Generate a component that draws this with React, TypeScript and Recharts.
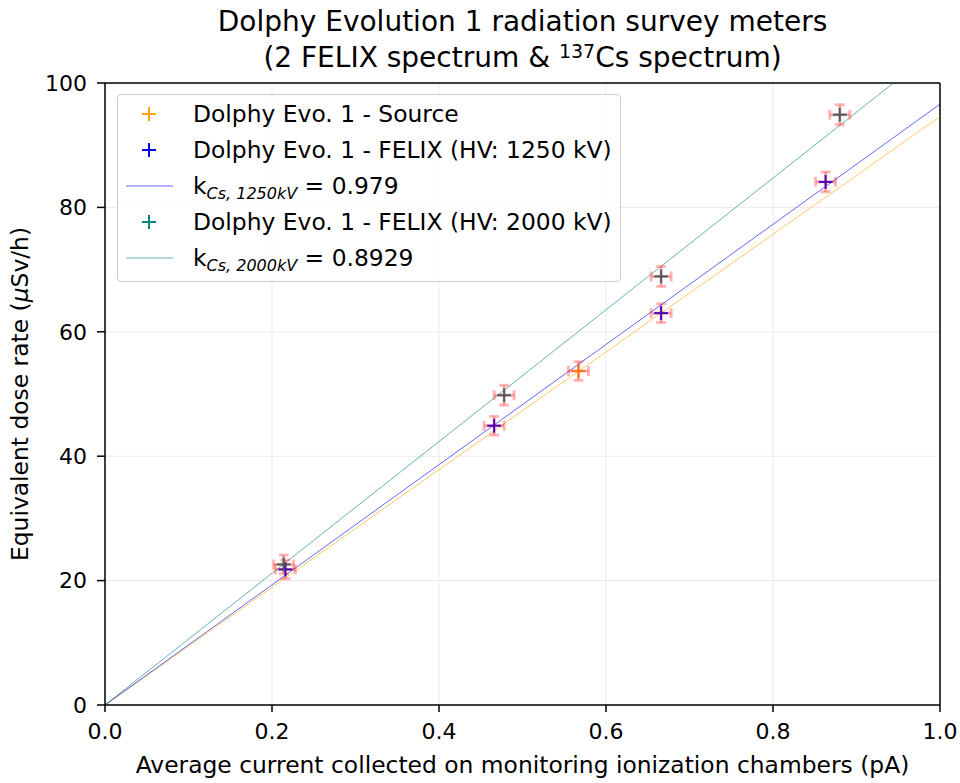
import React from "react";
import {
  ComposedChart,
  Scatter,
  Line,
  XAxis,
  YAxis,
  CartesianGrid,
  ErrorBar,
  ReferenceLine,
  Legend,
} from "recharts";

// valeurs
const sourceX = [0.567];
const sourceY = [53.7];
const sourceXErr = [0.012];
const sourceYErr = [1.5];

const felix1250X = [0.216, 0.466, 0.666, 0.863];
const felix1250Y = [21.8, 44.9, 63.0, 84.1];
const felix1250XErr = [0.012, 0.012, 0.012, 0.012];
const felix1250YErr = [1.5, 1.5, 1.5, 1.6];

const felix2000X = [0.214, 0.478, 0.666, 0.88];
const felix2000Y = [22.6, 49.8, 68.9, 94.9];
const felix2000XErr = [0.012, 0.012, 0.012, 0.012];
const felix2000YErr = [1.5, 1.6, 1.6, 1.6];

// pentes des droites d'ajustement (y à x = 1)
const lineX = [0, 1];
const slopeSource = 94.6;
const slope1250 = 96.6;
const slope2000 = 105.9;

const xTicks = [0, 0.2, 0.4, 0.6, 0.8, 1.0];
const yTicks = [0, 20, 40, 60, 80, 100];

const FONT = "'DejaVu Sans', sans-serif";
const ORANGE = "#ffa500";
const BLUE = "#0000ff";
const TEAL = "#008080";
// les barres d'erreur rouges translucides teintent les marqueurs dans l'original
const ORANGE_TINT = "#ff7410";
const BLUE_TINT = "#4a00b8";
const TEAL_TINT = "#4a5c5c";
const ERR = "rgba(255,0,0,0.28)";

const pts = (xs: number[], ys: number[], exs: number[], eys: number[]) =>
  xs.map((x, i) => ({ x, y: ys[i], ex: exs[i], ey: eys[i] }));

const fit = (slope: number) => lineX.map((x) => ({ x, y: x * slope }));

const sourceData = pts(sourceX, sourceY, sourceXErr, sourceYErr);
const felix1250Data = pts(felix1250X, felix1250Y, felix1250XErr, felix1250YErr);
const felix2000Data = pts(felix2000X, felix2000Y, felix2000XErr, felix2000YErr);

function Plus({ cx, cy, color }: { cx?: number; cy?: number; color: string }) {
  if (cx == null || cy == null) return null;
  const r = 7;
  return (
    <g>
      <line x1={cx - r} y1={cy} x2={cx + r} y2={cy} stroke={color} strokeWidth={2} />
      <line x1={cx} y1={cy - r} x2={cx} y2={cy + r} stroke={color} strokeWidth={2} />
    </g>
  );
}

const noMark = () => <g />;

function KLabel({ sub, val }: { sub: string; val: string }) {
  return (
    <span>
      k
      <sub style={{ fontStyle: "italic", fontSize: 16, verticalAlign: -5, lineHeight: 0 }}>{sub}</sub>
      {" = " + val}
    </span>
  );
}

const legendRows: { kind: "mark" | "line"; color: string; label: React.ReactNode }[] = [
  { kind: "mark", color: ORANGE, label: "Dolphy Evo. 1 - Source" },
  { kind: "mark", color: BLUE, label: "Dolphy Evo. 1 - FELIX (HV: 1250 kV)" },
  { kind: "line", color: "rgba(0,0,255,0.6)", label: <KLabel sub="Cs, 1250kV" val="0.979" /> },
  { kind: "mark", color: TEAL, label: "Dolphy Evo. 1 - FELIX (HV: 2000 kV)" },
  { kind: "line", color: "rgba(0,128,128,0.6)", label: <KLabel sub="Cs, 2000kV" val="0.8929" /> },
];

function LegendBox() {
  return (
    <div
      style={{
        width: 504,
        height: 188,
        border: "1px solid #cccccc",
        borderRadius: 4,
        background: "rgba(255,255,255,0.8)",
        fontFamily: FONT,
        fontSize: 23.4,
        color: "#000",
        boxSizing: "border-box",
        paddingTop: 1,
      }}
    >
      {legendRows.map((r, i) => (
        <div key={i} style={{ display: "flex", alignItems: "center", height: 36 }}>
          <svg width={75} height={36} style={{ flex: "none" }}>
            {r.kind === "mark" ? (
              <Plus cx={31} cy={18} color={r.color} />
            ) : (
              <line x1={8} y1={18} x2={55} y2={18} stroke={r.color} strokeWidth={1} />
            )}
          </svg>
          <span style={{ whiteSpace: "nowrap", lineHeight: "36px", height: 36 }}>{r.label}</span>
        </div>
      ))}
    </div>
  );
}

export default function App() {
  return (
    <div style={{ position: "absolute", left: 0, top: 0, width: 960, height: 783, background: "#fff" }}>
      <div
        style={{
          position: "absolute",
          left: 105,
          width: 835,
          top: 4,
          textAlign: "center",
          fontFamily: FONT,
          fontSize: 28,
          lineHeight: "36px",
          color: "#000",
          whiteSpace: "nowrap",
        }}
      >
        <div>Dolphy Evolution 1 radiation survey meters</div>
        <div>
          (2 FELIX spectrum &amp; <sup style={{ fontSize: 19, verticalAlign: 9, lineHeight: 0 }}>137</sup>Cs spectrum)
        </div>
      </div>
      <ComposedChart
        width={960}
        height={783}
        margin={{ top: 83, right: 20, bottom: 0, left: 0 }}
        style={{ fontFamily: FONT }}
      >
        <CartesianGrid stroke="#ebebeb" strokeWidth={1} />
        <XAxis
          dataKey="x"
          type="number"
          domain={[0, 1]}
          ticks={xTicks}
          allowDataOverflow
          tickFormatter={(v: number) => v.toFixed(1)}
          height={78}
          tickSize={7}
          tickMargin={11}
          axisLine={{ stroke: "#000", strokeWidth: 1.5 }}
          tickLine={{ stroke: "#000", strokeWidth: 1.5 }}
          tick={{ fill: "#000", fontSize: 22 }}
          label={({ viewBox }: any) => (
            <text
              x={viewBox.x + viewBox.width / 2}
              y={viewBox.y + 68}
              textAnchor="middle"
              fontSize={23.4}
              fill="#000"
            >
              Average current collected on monitoring ionization chambers (pA)
            </text>
          )}
        />
        <YAxis
          dataKey="y"
          type="number"
          domain={[0, 100]}
          ticks={yTicks}
          allowDataOverflow
          width={105}
          tickSize={8}
          tickMargin={10}
          axisLine={{ stroke: "#000", strokeWidth: 1.5 }}
          tickLine={{ stroke: "#000", strokeWidth: 1.5 }}
          tick={{ fill: "#000", fontSize: 22 }}
          label={({ viewBox }: any) => (
            <text
              x={0}
              y={0}
              transform={`translate(28, ${viewBox.y + viewBox.height / 2}) rotate(-90)`}
              textAnchor="middle"
              fontSize={23.4}
              fill="#000"
            >
              Equivalent dose rate (<tspan fontStyle="italic">μ</tspan>Sv/h)
            </text>
          )}
        />
        <ReferenceLine x={1} stroke="#000" strokeWidth={1.5} />
        <ReferenceLine y={100} stroke="#000" strokeWidth={1.5} />

        <Line data={fit(slopeSource)} dataKey="y" stroke={ORANGE} strokeOpacity={0.6} strokeWidth={1} dot={false} isAnimationActive={false} />
        <Line data={fit(slope1250)} dataKey="y" stroke={BLUE} strokeOpacity={0.6} strokeWidth={1} dot={false} isAnimationActive={false} />
        <Line data={fit(slope2000)} dataKey="y" stroke={TEAL} strokeOpacity={0.6} strokeWidth={1} dot={false} isAnimationActive={false} />

        <Scatter data={sourceData} dataKey="y" shape={(p: any) => <Plus cx={p.cx} cy={p.cy} color={ORANGE_TINT} />} isAnimationActive={false} />
        <Scatter data={felix1250Data} dataKey="y" shape={(p: any) => <Plus cx={p.cx} cy={p.cy} color={BLUE_TINT} />} isAnimationActive={false} />
        <Scatter data={felix2000Data} dataKey="y" shape={(p: any) => <Plus cx={p.cx} cy={p.cy} color={TEAL_TINT} />} isAnimationActive={false} />

        {/* barres d'erreur rouges translucides */}
        {[sourceData, felix1250Data, felix2000Data].map((d, i) => (
          <Scatter key={"err" + i} data={d} dataKey="y" shape={noMark} isAnimationActive={false}>
            <ErrorBar dataKey="ex" direction="x" width={5} stroke={ERR} strokeWidth={3} isAnimationActive={false} />
            <ErrorBar dataKey="ey" direction="y" width={5} stroke={ERR} strokeWidth={3} isAnimationActive={false} />
          </Scatter>
        ))}

        <Legend
          layout="vertical"
          align="center"
          verticalAlign="middle"
          content={() => <LegendBox />}
          wrapperStyle={{ left: 117, top: 94, width: 504, height: 188 }}
        />
      </ComposedChart>
    </div>
  );
}
